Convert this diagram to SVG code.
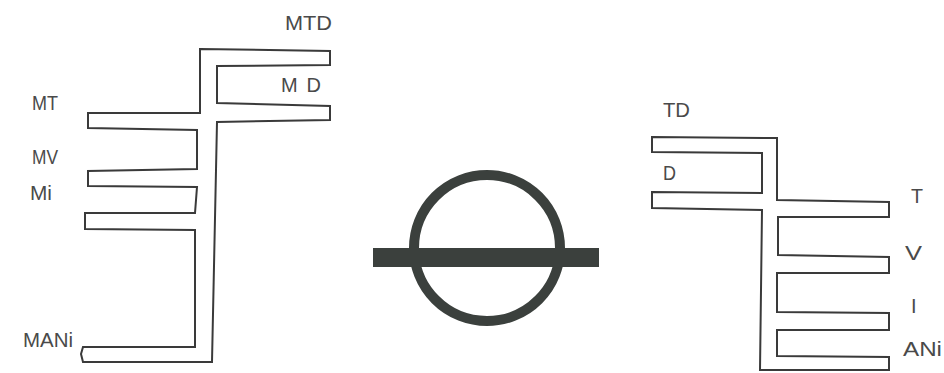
<svg xmlns="http://www.w3.org/2000/svg" width="944" height="373" viewBox="0 0 944 373">
<style>
.outline{fill:none;stroke:#3a3a3a;stroke-width:2;stroke-linejoin:miter}
.lbl{font-family:"Liberation Sans",Arial,sans-serif;font-size:20px;fill:#4a4a4a}
.sym{fill:none;stroke:#3b403d;stroke-width:10}
</style>
<rect width="944" height="373" fill="#ffffff"/>
<g id="left-figure">
<polygon class="outline" points="200,49 330,51 330,65 217,66 217,103 330,106 330,120 217,122 212,362 83,362 81,354 83,347 195,347 195,230 85,229 85,213 195,213 197,187 88,186 88,171 197,169 197,130 88,128 88,113 200,113"/>
<text class="lbl" x="285" y="30" textLength="47" lengthAdjust="spacingAndGlyphs">MTD</text>
<text class="lbl" x="281" y="92" textLength="40" lengthAdjust="spacing">MD</text>
<text class="lbl" x="32" y="110" textLength="26" lengthAdjust="spacingAndGlyphs">MT</text>
<text class="lbl" x="32" y="164" textLength="26" lengthAdjust="spacingAndGlyphs">MV</text>
<text class="lbl" x="30" y="200" textLength="22" lengthAdjust="spacingAndGlyphs">Mi</text>
<text class="lbl" x="23" y="347" textLength="50" lengthAdjust="spacingAndGlyphs">MANi</text>
</g>
<g id="symbol">
<circle class="sym" cx="487" cy="248" r="73"/>
<rect x="373" y="248" width="226" height="19" fill="#3b403d"/>
</g>
<g id="right-figure">
<polygon class="outline" points="652,137 777,138 777,200 889,202 889,217 778,217 778,255 889,257 889,273 777,273 777,312 889,313 889,330 777,330 777,356 889,357 889,370 760,370 762,210 652,208 652,192 762,193 762,153 652,152"/>
<text class="lbl" x="663" y="117" textLength="27" lengthAdjust="spacingAndGlyphs">TD</text>
<text class="lbl" x="663" y="180" textLength="13" lengthAdjust="spacingAndGlyphs">D</text>
<text class="lbl" x="911" y="203" textLength="12" lengthAdjust="spacingAndGlyphs">T</text>
<text class="lbl" x="905" y="260" textLength="17" lengthAdjust="spacingAndGlyphs">V</text>
<text class="lbl" x="911" y="313">I</text>
<text class="lbl" x="903" y="356" textLength="39" lengthAdjust="spacingAndGlyphs">ANi</text>
</g>
<g id="connectors"/>
</svg>
